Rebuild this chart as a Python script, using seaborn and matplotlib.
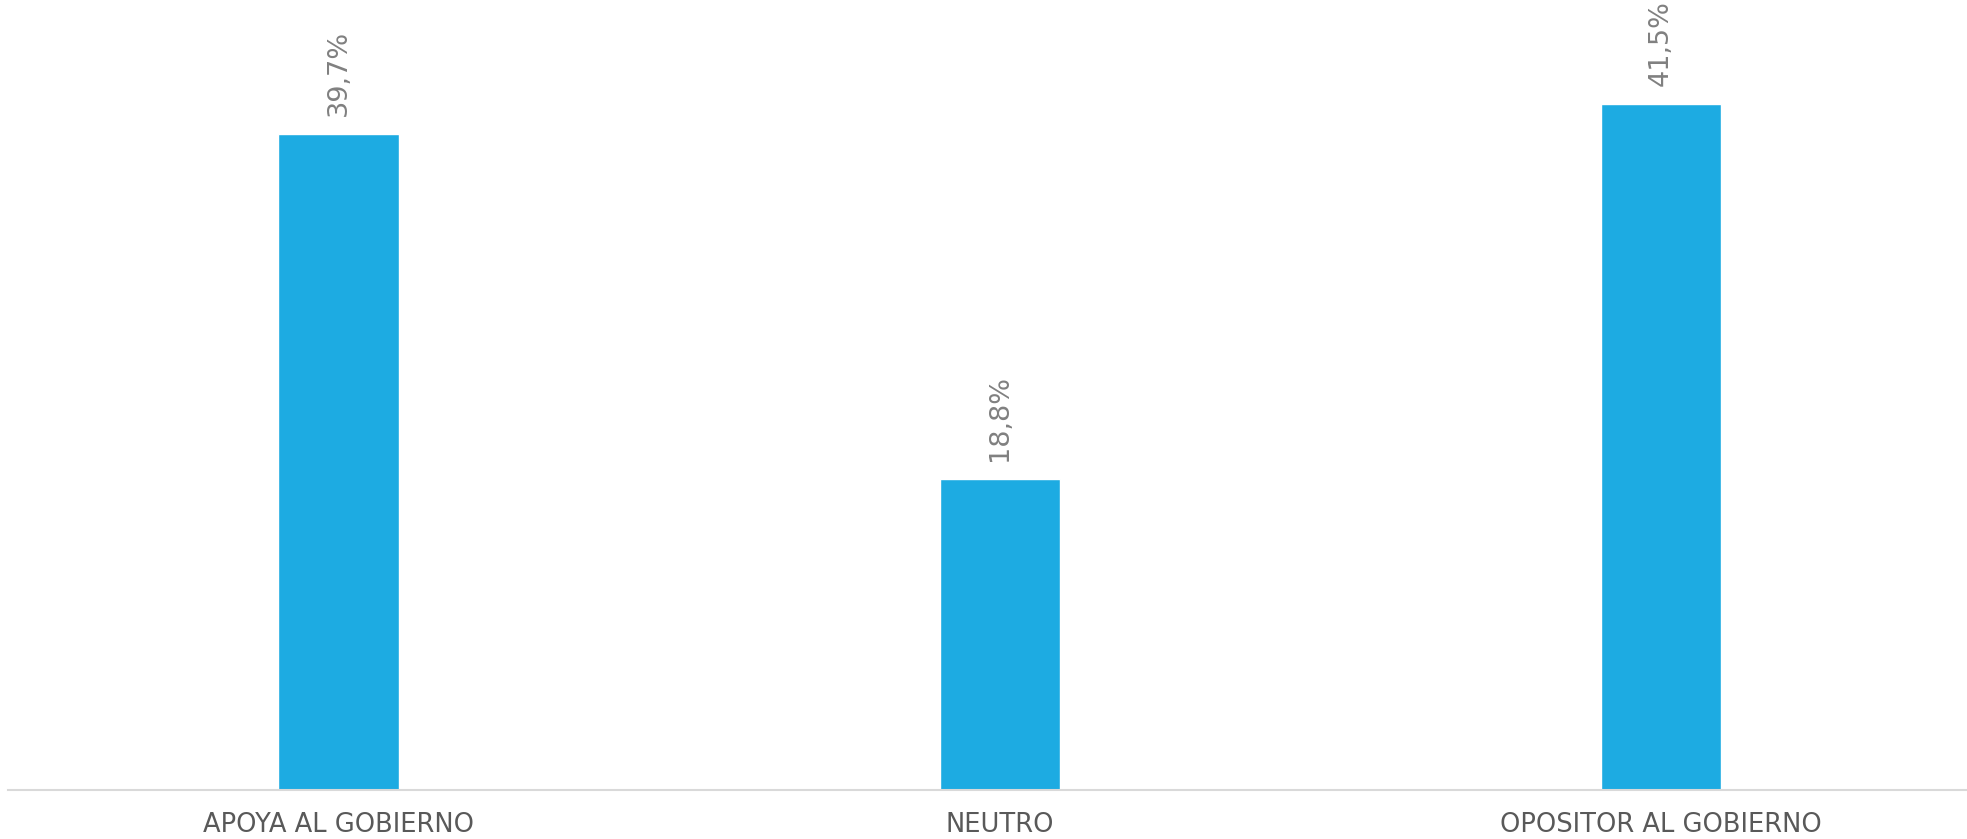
import matplotlib
matplotlib.use('Agg')
import matplotlib.pyplot as plt
import seaborn as sns
import pandas as pd

# --- datos ---
categorias = ['APOYA AL GOBIERNO', 'NEUTRO', 'OPOSITOR AL GOBIERNO']
porcentajes = [39.7, 18.8, 41.5]
etiquetas = ['39,7%', '18,8%', '41,5%']

sns.set_theme(style='white')
plt.rcParams['font.family'] = ['DejaVu Sans']

df = pd.DataFrame({'Categoria': categorias, 'Porcentaje': porcentajes})

fig = plt.figure(figsize=(19.67, 8.39), dpi=100)
ax = fig.add_axes([8 / 1967, 49 / 839, 1 - 8 / 1967, 790 / 839])

sns.barplot(data=df, x='Categoria', y='Porcentaje', color='#1DABE2',
            saturation=1, width=0.182, ax=ax)

ax.bar_label(ax.containers[0], labels=etiquetas, rotation=90, padding=13,
             fontsize=19.5, color='#808080')

ax.set_xlim(-0.5, 2.463)
ax.set_ylim(0, 47.8)
ax.set_xlabel('')
ax.set_ylabel('')
ax.set_yticks([])
ax.tick_params(axis='x', length=0, pad=16, labelsize=18.5, labelcolor='#595959')

for lado in ['top', 'right', 'left']:
    ax.spines[lado].set_visible(False)
ax.spines['bottom'].set_color('#d9d9d9')
ax.spines['bottom'].set_linewidth(1.5)

fig.savefig('out.png', dpi=100)
plt.close()
